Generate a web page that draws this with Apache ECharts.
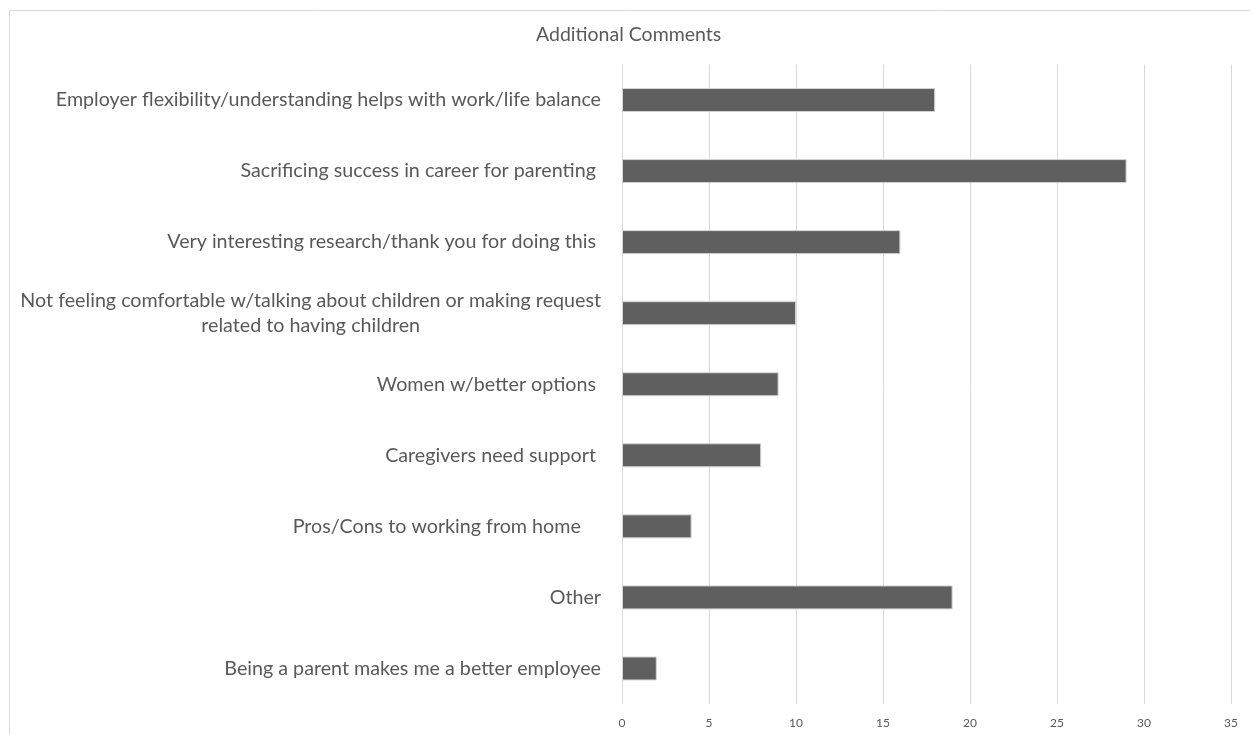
<!DOCTYPE html>
<html>
<head>
<meta charset="utf-8">
<title>Additional Comments</title>
<script src="https://cdn.jsdelivr.net/npm/echarts@6/dist/echarts.min.js"></script>
<style>
  html, body { margin: 0; padding: 0; background: #ffffff; }
  #chart { width: 1250px; height: 734px; }
</style>
</head>
<body>
<div id="chart"></div>
<script>
// Comment themes, listed top to bottom
const categories = [
  'Employer flexibility/understanding helps with work/life balance',
  'Sacrificing success in career for parenting ',
  'Very interesting research/thank you for doing this ',
  'Not feeling comfortable w/talking about children or making request\nrelated to having children',
  'Women w/better options ',
  'Caregivers need support ',
  'Pros/Cons to working from home    ',
  'Other',
  'Being a parent makes me a better employee'
];

// Number of respondents mentioning each theme
const counts = [18, 29, 16, 10, 9, 8, 4, 19, 2];

// Value axis ticks
const axisMin = 0;
const axisMax = 35;
const axisStep = 5;

const FONT = 'Lato, "Open Sans", sans-serif';
const TEXT = '#595959';
const LABEL_SIZE = 19.7;

const chart = echarts.init(document.getElementById('chart'), null, { renderer: 'canvas' });

chart.setOption({
  backgroundColor: '#ffffff',
  animation: false,
  title: {
    text: 'Additional Comments',
    left: 536,
    top: 25,
    padding: 0,
    textStyle: { fontFamily: FONT, fontSize: 19.5, fontWeight: 'normal', color: TEXT }
  },
  graphic: [{
    type: 'rect',
    left: 7,
    top: 8,
    shape: { width: 1300, height: 800 },
    style: { fill: 'none', stroke: '#d9d9d9', lineWidth: 1 },
    silent: true
  }],
  grid: { left: 622, right: 19, top: 64.5, bottom: 30, containLabel: false },
  xAxis: {
    type: 'value',
    min: axisMin,
    max: axisMax,
    interval: axisStep,
    axisLine: { show: false },
    axisTick: { show: false },
    splitLine: { show: true, lineStyle: { color: '#d9d9d9', width: 1 } },
    axisLabel: { fontFamily: FONT, fontSize: 12, color: TEXT, margin: 13 }
  },
  yAxis: {
    type: 'category',
    data: categories,
    inverse: true,
    axisLine: { show: false },
    axisTick: { show: false },
    splitLine: { show: false },
    axisLabel: {
      margin: 21,
      fontFamily: FONT,
      fontSize: LABEL_SIZE,
      color: TEXT,
      lineHeight: 25,
      formatter: function (value) {
        if (value.indexOf('\n') < 0) return value;
        return value.split('\n').map(function (line) { return '{c|' + line + '}'; }).join('\n');
      },
      rich: {
        c: { align: 'center', fontFamily: FONT, fontSize: LABEL_SIZE, color: TEXT, lineHeight: 25 }
      }
    }
  },
  series: [{
    type: 'bar',
    data: counts,
    barWidth: 24,
    itemStyle: { color: '#5f5f5f', borderColor: '#d4d4d4', borderWidth: 1 }
  }]
});
</script>
</body>
</html>
